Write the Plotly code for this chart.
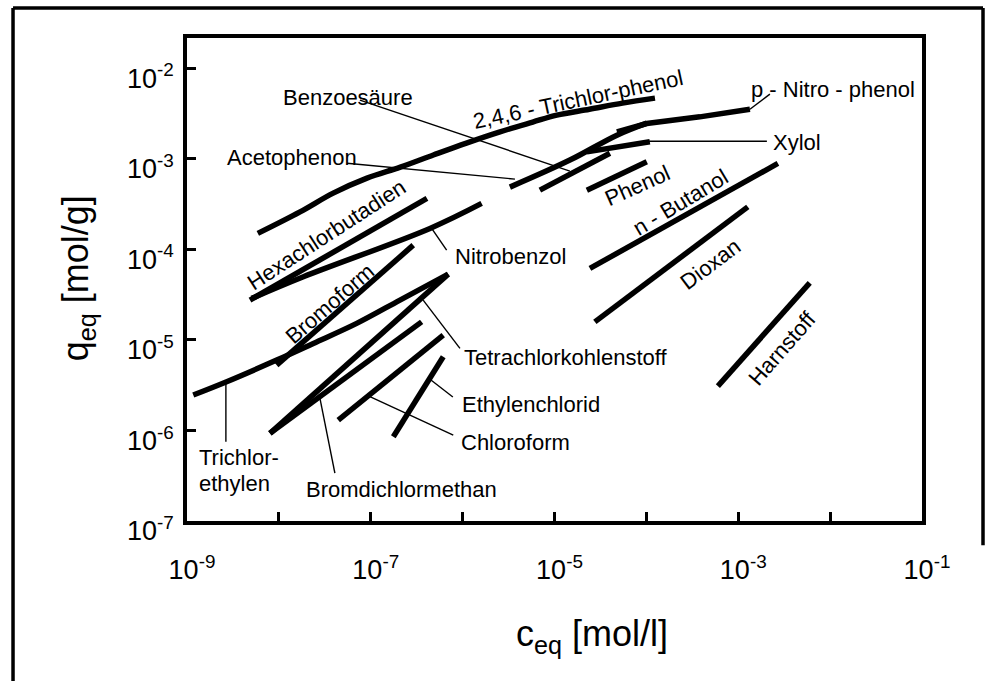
import math
import plotly.graph_objects as go

# ---------------- data ----------------
trichlorphenol_x = [5.9e-9, 1.7e-8, 3.9e-8, 9.1e-8, 2.1e-7, 4.8e-7, 1.1e-6, 2.5e-6, 5.8e-6, 1.06e-5, 2.4e-5, 5.5e-5, 1.24e-4]
trichlorphenol_y = [1.50e-4, 2.59e-4, 4.17e-4, 6.11e-4, 8.07e-4, 1.10e-3, 1.49e-3, 1.97e-3, 2.54e-3, 3.03e-3, 3.52e-3, 4.11e-3, 4.67e-3]
nitrophenol_x = [4.78e-5, 1.01e-4, 3.82e-4, 1.34e-3]
nitrophenol_y = [1.98e-3, 2.45e-3, 2.90e-3, 3.52e-3]
acetophenon_x = [3.27e-6, 1.47e-5, 4.78e-5, 1.01e-4]
acetophenon_y = [4.86e-4, 9.66e-4, 1.82e-3, 2.47e-3]
benzoesaeure_x = [6.93e-6, 4.01e-5]
benzoesaeure_y = [4.50e-4, 1.15e-3]
xylol_x = [2.25e-5, 1.09e-4]
xylol_y = [1.19e-3, 1.54e-3]
phenol_x = [2.25e-5, 1.01e-4]
phenol_y = [4.50e-4, 9.25e-4]
butanol_x = [2.43e-5, 2.70e-3]
butanol_y = [6.15e-5, 8.87e-4]
dioxan_x = [2.75e-5, 1.27e-3]
dioxan_y = [1.58e-5, 2.94e-4]
harnstoff_x = [6.0e-4, 6.0e-3]
harnstoff_y = [3.09e-6, 4.26e-5]
hexachlorbutadien_x = [4.85e-9, 4.09e-7]
hexachlorbutadien_y = [2.75e-5, 3.65e-4]
nitrobenzol_x = [5.06e-9, 1.85e-8, 4.41e-7, 1.61e-6]
nitrobenzol_y = [2.87e-5, 4.98e-5, 1.70e-4, 3.21e-4]
bromoform_x = [9.46e-9, 2.90e-7]
bromoform_y = [5.27e-6, 1.11e-4]
trichlorethylen_x = [1.17e-9, 2.70e-9, 9.46e-9, 2.37e-8, 7.03e-8, 2.08e-7, 6.97e-7]
trichlorethylen_y = [2.46e-6, 3.45e-6, 5.98e-6, 9.14e-6, 1.52e-5, 2.75e-5, 5.32e-5]
tetrachlor_x = [8.0e-9, 6.97e-7]
tetrachlor_y = [9.29e-7, 5.32e-5]
bromdichlor_x = [8.0e-9, 3.58e-7]
bromdichlor_y = [9.29e-7, 1.58e-5]
chloroform_x = [4.43e-8, 6.15e-7]
chloroform_y = [1.30e-6, 1.13e-5]
ethylenchlorid_x = [1.76e-7, 6.15e-7]
ethylenchlorid_y = [8.51e-7, 6.50e-6]

# leader lines (label -> curve), data units
leader_x = [
    [7.62e-8, 1.47e-5],   # Benzoesäure
    [5.51e-8, 3.71e-6],   # Acetophenon
    [1.34e-3, 2.21e-3],   # p-Nitro-phenol
    [1.04e-4, 2.05e-3],   # Xylol
    [4.60e-7, 6.70e-7],   # Nitrobenzol
    [3.72e-7, 9.35e-7],   # Tetrachlorkohlenstoff
    [4.52e-7, 7.83e-7],   # Ethylenchlorid
    [9.79e-8, 7.91e-7],   # Chloroform
    [2.80e-8, 4.07e-8],   # Bromdichlormethan
    [2.65e-9, 2.65e-9],   # Trichlorethylen
]
leader_y = [
    [4.44e-3, 7.30e-4],
    [8.93e-4, 5.96e-4],
    [3.52e-3, 5.16e-3],
    [1.56e-3, 1.56e-3],
    [1.70e-4, 9.80e-5],
    [2.75e-5, 8.05e-6],
    [3.60e-6, 2.34e-6],
    [2.36e-6, 8.89e-7],
    [2.26e-6, 3.37e-7],
    [3.45e-6, 7.50e-7],
]

# labels: text, x, y, angle, xanchor
label_text = ["Benzoesäure", "2,4,6 - Trichlor-phenol", "p - Nitro - phenol", "Xylol",
              "Acetophenon", "Phenol", "n - Butanol", "Dioxan", "Harnstoff",
              "Hexachlorbutadien", "Nitrobenzol", "Bromoform", "Tetrachlorkohlenstoff",
              "Ethylenchlorid", "Chloroform", "Bromdichlormethan", "Trichlor-", "ethylen"]
label_x = [5.65e-8, 1.80e-5, 1.07e-2, 4.35e-3, 1.39e-8, 8.07e-5, 2.32e-4, 4.91e-4, 2.98e-3,
           3.33e-8, 3.36e-6, 3.60e-8, 1.33e-5, 5.53e-6, 3.80e-6, 2.18e-7, 1.29e-9, 1.29e-9]
label_y = [4.79e-3, 4.55e-3, 5.86e-3, 1.52e-3, 1.04e-3, 5.12e-4, 3.32e-4, 6.87e-5, 8.13e-6,
           1.44e-4, 8.41e-5, 2.55e-5, 6.46e-6, 1.95e-6, 7.45e-7, 2.20e-7, 5.08e-7, 2.62e-7]
label_angle = [0, -12, 0, 0, 0, -24, -31, -37, -49, -33, 0, -41, 0, 0, 0, 0, 0, 0]
label_anchor = ["center"] * 16 + ["left", "left"]

x_tickvals = [1e-9, 1e-8, 1e-7, 1e-6, 1e-5, 1e-4, 1e-3, 1e-2, 1e-1]
x_ticktext = ["10<sup>-9</sup>", "", "10<sup>-7</sup>", "", "10<sup>-5</sup>", "",
              "10<sup>-3</sup>", "", "10<sup>-1</sup>"]
y_tickvals = [1e-7, 1e-6, 1e-5, 1e-4, 1e-3, 1e-2]
y_ticktext = ["10<sup>-7</sup>", "10<sup>-6</sup>", "10<sup>-5</sup>", "10<sup>-4</sup>",
              "10<sup>-3</sup>", "10<sup>-2</sup>"]

FONT = "Arial, 'Liberation Sans', sans-serif"

series = [
    (trichlorphenol_x, trichlorphenol_y, True),
    (nitrophenol_x, nitrophenol_y, False),
    (acetophenon_x, acetophenon_y, True),
    (benzoesaeure_x, benzoesaeure_y, False),
    (xylol_x, xylol_y, False),
    (phenol_x, phenol_y, False),
    (butanol_x, butanol_y, False),
    (dioxan_x, dioxan_y, False),
    (harnstoff_x, harnstoff_y, False),
    (hexachlorbutadien_x, hexachlorbutadien_y, False),
    (nitrobenzol_x, nitrobenzol_y, True),
    (bromoform_x, bromoform_y, False),
    (trichlorethylen_x, trichlorethylen_y, True),
    (tetrachlor_x, tetrachlor_y, False),
    (bromdichlor_x, bromdichlor_y, False),
    (chloroform_x, chloroform_y, False),
    (ethylenchlorid_x, ethylenchlorid_y, False),
]

fig = go.Figure()
for xs, ys, curved in series:
    fig.add_trace(go.Scatter(x=xs, y=ys, mode="lines",
                             line=dict(color="black", width=5.5,
                                       shape="spline" if curved else "linear"),
                             hoverinfo="skip", showlegend=False))
for xs, ys in zip(leader_x, leader_y):
    fig.add_trace(go.Scatter(x=xs, y=ys, mode="lines",
                             line=dict(color="black", width=1.4),
                             hoverinfo="skip", showlegend=False))

for t, x, y, a, anc in zip(label_text, label_x, label_y, label_angle, label_anchor):
    fig.add_annotation(x=math.log10(x), y=math.log10(y), xref="x", yref="y",
                       text=t, showarrow=False, textangle=a, xanchor=anc,
                       yanchor="middle", font=dict(family=FONT, size=22, color="black"))

# axis titles
fig.add_annotation(x=-0.148, y=0.503, xref="paper", yref="paper",
                   xanchor="center", yanchor="middle",
                   text="q<sub>eq</sub> [mol/g]", showarrow=False, textangle=-90,
                   font=dict(family=FONT, size=36, color="black"))
fig.add_annotation(x=0.551, y=-0.238, xref="paper", yref="paper",
                   xanchor="center", yanchor="middle",
                   text="c<sub>eq</sub> [mol/l]", showarrow=False,
                   font=dict(family=FONT, size=36, color="black"))

# outer frame of the picture
frame = dict(type="line", xref="paper", yref="paper", line=dict(color="black", width=3.5))
fig.add_shape(**frame, x0=-0.2367, x1=-0.2367, y0=1.062, y1=-0.335)
fig.add_shape(**frame, x0=-0.2367, x1=1.083, y0=1.062, y1=1.062)
fig.add_shape(**frame, x0=1.083, x1=1.083, y0=1.062, y1=-0.05)

fig.update_layout(
    width=987, height=681,
    margin=dict(l=187, r=65, t=38, b=160),
    paper_bgcolor="white", plot_bgcolor="white",
    showlegend=False,
    font=dict(family=FONT, color="black"),
)
fig.update_xaxes(type="log", range=[-9, -1], tickvals=x_tickvals, ticktext=x_ticktext,
                 ticks="inside", ticklen=9, tickwidth=3, tickcolor="black",
                 showline=True, linewidth=3.5, linecolor="black", mirror=True,
                 showgrid=False, zeroline=False, ticklabelstandoff=22, ticklabelshift=5,
                 tickfont=dict(family=FONT, size=27, color="black"))
fig.update_yaxes(type="log", range=[-7, -1.667], tickvals=y_tickvals, ticktext=y_ticktext,
                 ticks="inside", ticklen=9, tickwidth=3, tickcolor="black",
                 showline=True, linewidth=3.5, linecolor="black", mirror=True,
                 showgrid=False, zeroline=False, ticklabelstandoff=4, ticklabelshift=10,
                 tickfont=dict(family=FONT, size=27, color="black"))

fig.write_html("out.html", config={"displayModeBar": False},
               post_script="document.body.style.margin='0px';")
